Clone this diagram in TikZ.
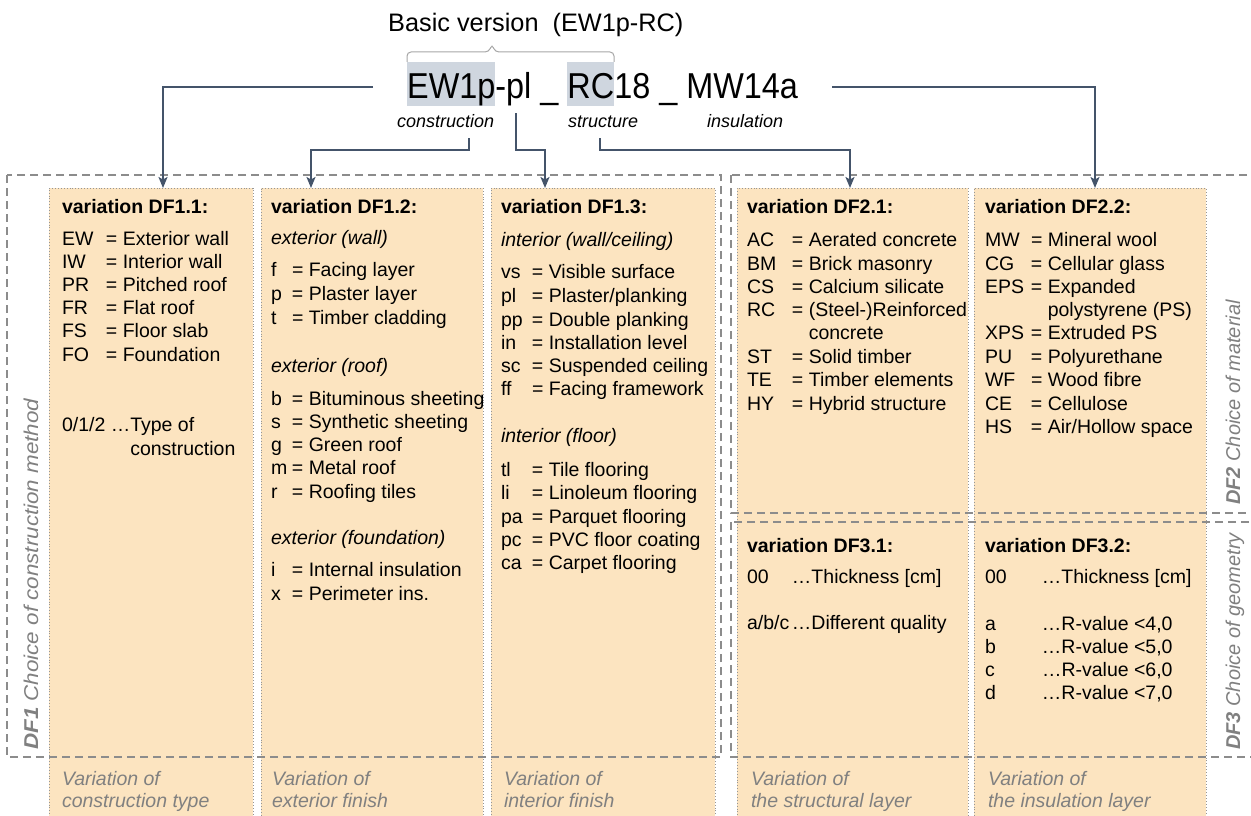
\documentclass[tikz,border=0pt]{standalone}
\usepackage{fontspec}
\setmainfont{Liberation Sans}
\usepackage{graphicx}
\usetikzlibrary{arrows.meta}

\definecolor{boxfill}{RGB}{252,228,192}
\definecolor{dotcol}{RGB}{150,150,150}
\definecolor{framecol}{RGB}{140,140,140}
\definecolor{arrcol}{RGB}{68,84,106}
\definecolor{hlcol}{RGB}{207,214,223}
\definecolor{lblgray}{RGB}{128,128,128}
\definecolor{brkcol}{RGB}{166,166,166}

% shaded background behind the key letters of the code
\newcommand\hlpart[1]{{\setlength{\fboxsep}{0pt}\colorbox{hlcol}{\rule[-7pt]{0pt}{44pt}#1}}}

% one line of a legend column: fixed-width code, then its meaning
\newcommand\colentries[4]{%
  \foreach \vy/\vc/\vt [count=\n] in {#4}{
    \node[body] (#1-\n) at (#2,\vy) {\makebox[#3pt][l]{\vc}\vt};
  }}

\tikzset{
  body/.style={anchor=base west, inner sep=0pt, outer sep=0pt, font=\fontsize{19.5}{23}\selectfont},
  ttl/.style={body, font=\fontsize{19.5}{23}\selectfont\bfseries},
  subhead/.style={body, font=\fontsize{19.5}{23}\selectfont\itshape},
  note/.style={body, font=\fontsize{19.5}{23}\selectfont\itshape, text=lblgray},
  colbox/.style={draw=dotcol, dotted, line width=0.9pt, fill=boxfill, anchor=north west,
    inner sep=0pt, outer sep=0pt, minimum height=640pt},
  frame/.style={draw=framecol, line width=1.3pt, dash pattern=on 8pt off 5pt},
  conn/.style={draw=arrcol, line width=1.8pt, -{Stealth[length=11pt,width=9pt,inset=2.5pt]}},
  side/.style={anchor=base west, rotate=90, inner sep=0pt,
    font=\fontsize{20}{24}\selectfont\itshape, text=lblgray},
  partlbl/.style={anchor=base west, inner sep=0pt, font=\fontsize{18}{22}\selectfont\itshape},
}

\begin{document}
\begin{tikzpicture}[x=1pt,y=-1pt]
\useasboundingbox (0,0) rectangle (1251,816);
\clip (0,0) rectangle (1251,816);

% legend columns
\node[colbox, minimum width=204pt] (b11) at (49,188) {};
\node[colbox, minimum width=222pt] (b12) at (261,188) {};
\node[colbox, minimum width=224pt] (b13) at (491,188) {};
\node[colbox, minimum width=231pt] (b21) at (737,188) {};
\node[colbox, minimum width=232pt] (b22) at (974,188) {};

% dashed groupings DF1 / DF2 / DF3
\draw[frame] (7,175) rectangle (721,757);
\draw[frame] (731,175) rectangle (1262,513);
\draw[frame] (731,522) rectangle (1262,757);

% heading and coded name
\node[anchor=base west, inner sep=0pt, font=\fontsize{25.3}{29}\selectfont] (title) at (388,32) {Basic version~ (EW1p-RC)};
\draw[brkcol, line width=1pt, rounded corners=4pt] (407,62) |- (489,52) -- (492,44) -- (495,52) -| (614,62);
\node[anchor=base west, inner sep=0pt] (code) at (407,99)
  {\scalebox{0.9}[1]{\fontsize{36}{40}\selectfont\hlpart{EW1p}-pl \_ \hlpart{RC}18 \_ MW14a}};
\node[partlbl] (pconstr) at (397,128) {construction};
\node[partlbl] (pstruct) at (568,128) {structure};
\node[partlbl] (pinsul) at (707,128) {insulation};

% connectors from the code to the columns
\coordinate (s1) at (373,87);
\coordinate (s2) at (469,138);
\coordinate (s3) at (516,113);
\coordinate (s4) at (600,138);
\coordinate (s5) at (832,87);
\draw[conn] (s1) -| ([xshift=12pt]b11.north);
\draw[conn] (s2) -- ++(0,12) -| ([xshift=-61pt]b12.north);
\draw[conn] (s3) -- ++(0,37) -| ([xshift=-58pt]b13.north);
\draw[conn] (s4) -- ++(0,12) -| ([xshift=-2.5pt]b21.north);
\draw[conn] (s5) -| ([xshift=5pt]b22.north);

% DF1.1
\node[ttl] (h11) at (62,213) {variation DF1.1:};
\colentries{e11}{62}{44}{245/EW/{= Exterior wall}, 268/IW/{= Interior wall}, 291/PR/{= Pitched roof},
  314/FR/{= Flat roof}, 337/FS/{= Floor slab}, 361/FO/{= Foundation}}
\node[body] (e11t1) at (62,431) {0/1/2 …Type of};
\node[body] (e11t2) at (62,455) {\phantom{0/1/2 …}construction};

% DF1.2
\node[ttl] (h12) at (271,213) {variation DF1.2:};
\node[subhead] (s12a) at (271,244) {exterior (wall)};
\node[subhead] (s12b) at (271,372) {exterior (roof)};
\node[subhead] (s12c) at (271,544) {exterior (foundation)};
\colentries{e12}{271}{21}{276/f/{= Facing layer}, 300/p/{= Plaster layer}, 324/t/{= Timber cladding},
  405/b/{= Bituminous sheeting}, 428/s/{= Synthetic sheeting}, 451/g/{= Green roof},
  474/m/{= Metal roof}, 498/r/{= Roofing tiles}, 576/i/{= Internal insulation}, 600/x/{= Perimeter ins.}}

% DF1.3
\node[ttl] (h13) at (501,213) {variation DF1.3:};
\node[subhead] (s13a) at (501,246) {interior (wall/ceiling)};
\node[subhead] (s13b) at (501,442) {interior (floor)};
\colentries{e13}{501}{31}{278/vs/{= Visible surface}, 302/pl/{= Plaster/planking}, 326/pp/{= Double planking},
  349/in/{= Installation level}, 372/sc/{= Suspended ceiling}, 395/ff/{= Facing framework},
  476/tl/{= Tile flooring}, 499/li/{= Linoleum flooring}, 523/pa/{= Parquet flooring},
  546/pc/{= PVC floor coating}, 569/ca/{= Carpet flooring}}

% DF2.1
\node[ttl] (h21) at (747,213) {variation DF2.1:};
\colentries{e21}{747}{45}{246/AC/{= Aerated concrete}, 270/BM/{= Brick masonry}, 293/CS/{= Calcium silicate},
  316/RC/{= (Steel-)Reinforced}, 339/{}/{\phantom{= }concrete}, 363/ST/{= Solid timber},
  386/TE/{= Timber elements}, 410/HY/{= Hybrid structure}}

% DF2.2
\node[ttl] (h22) at (985,213) {variation DF2.2:};
\colentries{e22}{985}{46}{246/MW/{= Mineral wool}, 270/CG/{= Cellular glass}, 293/EPS/{= Expanded},
  316/{}/{\phantom{= }polystyrene (PS)}, 339/XPS/{= Extruded PS}, 363/PU/{= Polyurethane},
  386/WF/{= Wood fibre}, 410/CE/{= Cellulose}, 433/HS/{= Air/Hollow space}}

% DF3.1
\node[ttl] (h31) at (747,552) {variation DF3.1:};
\colentries{e31}{747}{45}{583/00/{…Thickness [cm]}, 629/{a/b/c}/{…Different quality}}

% DF3.2
\node[ttl] (h32) at (985,552) {variation DF3.2:};
\colentries{e32}{985}{57}{583/00/{…Thickness [cm]}, 630/a/{…R-value <4,0}, 653/b/{…R-value <5,0},
  676/c/{…R-value <6,0}, 699/d/{…R-value <7,0}}

% captions under the columns
\node[note] (n11a) at (62,785) {Variation of};
\node[note] (n11b) at (62,807) {construction type};
\node[note] (n12a) at (272,785) {Variation of};
\node[note] (n12b) at (272,807) {exterior finish};
\node[note] (n13a) at (504,785) {Variation of};
\node[note] (n13b) at (504,807) {interior finish};
\node[note] (n21a) at (751,785) {Variation of};
\node[note] (n21b) at (751,807) {the structural layer};
\node[note] (n22a) at (988,785) {Variation of};
\node[note] (n22b) at (988,807) {the insulation layer};

% group names along the sides
\node[side] (g1) at (38,750) {\scalebox{1.12}[1]{\textbf{DF1} Choice of construction method}};
\node[side] (g2) at (1240,505) {\textbf{DF2} Choice of material};
\node[side] (g3) at (1240,750) {\textbf{DF3} Choice of geometry};
\end{tikzpicture}
\end{document}
